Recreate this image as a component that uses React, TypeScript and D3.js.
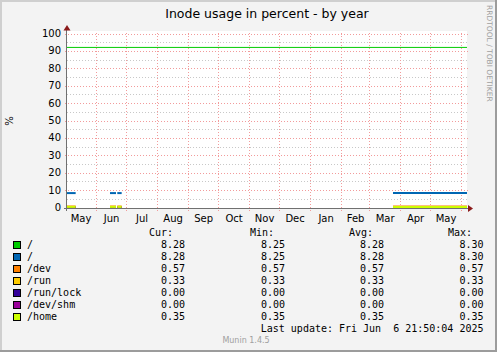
import React from 'react';
import * as d3 from 'd3';

// chart data
const endTime = new Date('2025-06-06T21:50:04Z');
const startTime = new Date(endTime.getTime() - 400 * 86400000);

// stretches of time where samples exist
const segmentStarts = ['2024-05-02T21:50:04Z', '2024-06-14T21:50:00Z', '2024-06-22T05:00:00Z', '2025-03-24T21:50:00Z'];
const segmentEnds = ['2024-05-11T14:00:00Z', '2024-06-20T21:50:00Z', '2024-06-26T14:00:00Z', '2025-06-06T21:50:04Z'];

const seriesNames = ['/', '/', '/dev', '/run', '/run/lock', '/dev/shm', '/home'];
const seriesColors = ['#00CC00', '#0066B3', '#FF8000', '#FFCC00', '#330099', '#990099', '#CCFF00'];
// value per segment for each series (the green "/" is drawn at its warning level)
const seriesValues = [
  [92, 92, 92, 92],
  [8.28, 8.28, 8.28, 8.28],
  [0.57, 0.57, 0.57, 0.57],
  [0.33, 0.33, 0.33, 0.33],
  [0, 0, 0, 0],
  [0, 0, 0, 0],
  [0.35, 0.35, 0.35, 0.35],
];
const curValues = ['8.28', '8.28', '0.57', '0.33', '0.00', '0.00', '0.35'];
const minValues = ['8.25', '8.25', '0.57', '0.33', '0.00', '0.00', '0.35'];
const avgValues = ['8.28', '8.28', '0.57', '0.33', '0.00', '0.00', '0.35'];
const maxValues = ['8.30', '8.30', '0.57', '0.33', '0.00', '0.00', '0.35'];

const yTicks = [0, 10, 20, 30, 40, 50, 60, 70, 80, 90, 100];
const yMinorTicks = [5, 15, 25, 35, 45, 55, 65, 75, 85, 95];

const W = 497;
const H = 352;
const sans = 'DejaVu Sans, sans-serif';
const mono = 'DejaVu Sans Mono, monospace';

export default function App() {
  const x = d3.scaleUtc().domain([startTime, endTime]).range([67, 467]);
  const y = d3.scaleLinear().domain([0, 100]).range([207.5, 33.5]);

  const left = 67;
  const right = 467;
  const top = 31;
  const bottom = 208;

  const months = d3.utcMonth.range(d3.utcMonth.floor(startTime), endTime);
  const gridMonths = months.filter(m => m > startTime);

  const line = d3.line<[Date, number]>()
    .x(d => x(d[0]))
    .y(d => y(d[1]));

  const legendRows = [248, 260, 272, 284, 296, 308, 320];

  return (
    <svg width={W} height={H} style={{ position: 'absolute', left: 0, top: 0 }}>
      <rect x={0} y={0} width={W} height={H} fill="#F3F3F3" />
      <rect x={0} y={0} width={W} height={2} fill="#CFCFCF" />
      <rect x={0} y={0} width={2} height={H} fill="#CFCFCF" />
      <rect x={0} y={H - 2} width={W} height={2} fill="#9C9C9C" />
      <rect x={W - 2} y={0} width={2} height={H} fill="#9C9C9C" />

      <text x={267} y={18} fontFamily={sans} fontSize={12.5} textAnchor="middle" fill="#000">
        Inode usage in percent - by year
      </text>

      <text
        transform="translate(487,5) rotate(90)"
        fontFamily={sans}
        fontSize={7.5}
        fill="#A0A0A0"
      >
        RRDTOOL / TOBI OETIKER
      </text>

      <text transform="translate(13,121) rotate(-90)" fontFamily={sans} fontSize={10} textAnchor="middle">
        %
      </text>

      {/* canvas */}
      <rect x={left} y={top} width={right - left} height={bottom - top} fill="#FFFFFF" />

      {/* minor horizontal grid */}
      {yMinorTicks.map(t => (
        <line key={'mn' + t} x1={left} x2={right} y1={Math.round(y(t)) + 0.5} y2={Math.round(y(t)) + 0.5}
          stroke="#C8C8C8" strokeDasharray="1,2" />
      ))}
      {/* major horizontal grid */}
      {yTicks.map(t => (
        <line key={'mj' + t} x1={left - 2} x2={right + 2} y1={Math.round(y(t)) + 0.5} y2={Math.round(y(t)) + 0.5}
          stroke="#F29B9B" strokeDasharray="1,2" />
      ))}
      {/* vertical month grid */}
      {gridMonths.map(m => (
        <line key={'v' + m.getTime()} x1={Math.round(x(m)) + 0.5} x2={Math.round(x(m)) + 0.5} y1={top + 2} y2={bottom + 3}
          stroke="#F29B9B" strokeDasharray="1,2" />
      ))}

      {/* series */}
      {seriesValues.map((vals, si) =>
        si === 0 ? (
          <path key={'s' + si}
            d={line([[startTime, vals[0]], [endTime, vals[vals.length - 1]]]) || ''}
            stroke={seriesColors[si]} strokeWidth={1} fill="none" />
        ) : (
          <g key={'s' + si}>
            {segmentStarts.map((s, i) => (
              <path key={i}
                d={line([[new Date(s), vals[i]], [new Date(segmentEnds[i]), vals[i]]]) || ''}
                stroke={seriesColors[si]} strokeWidth={2} fill="none" />
            ))}
          </g>
        )
      )}

      {/* axes */}
      <line x1={66.5} x2={66.5} y1={29} y2={bottom + 3} stroke="#707070" />
      <line x1={64} x2={right + 1} y1={bottom + 0.5} y2={bottom + 0.5} stroke="#707070" />
      <path d={`M63.5,30.5 L70.5,30.5 L67,25 Z`} fill="#8B1A1A" />
      <path d={`M468,205 L468,212 L473,208.5 Z`} fill="#8B1A1A" />

      {yTicks.map(t => (
        <text key={'yl' + t} x={61} y={y(t) + 3.5} fontFamily={sans} fontSize={10} textAnchor="end">
          {t}
        </text>
      ))}
      {months.map(m => {
        const next = d3.utcMonth.offset(m, 1);
        const cx = (x(m) + x(next)) / 2 + 0.5;
        if (cx < left || cx > right) return null;
        return (
          <text key={'xl' + m.getTime()} x={cx} y={222} fontFamily={sans} fontSize={10} textAnchor="middle">
            {d3.utcFormat('%b')(m)}
          </text>
        );
      })}

      {/* legend */}
      <g fontFamily={mono} fontSize={10} fill="#000">
        <text x={149} y={236}>Cur:</text>
        <text x={250} y={236}>Min:</text>
        <text x={349} y={236}>Avg:</text>
        <text x={448} y={236}>Max:</text>
        {seriesNames.map((n, i) => (
          <g key={'lg' + i}>
            <rect x={13.5} y={legendRows[i] - 6.5} width={7} height={7} fill={seriesColors[i]} stroke="#000" />
            <text x={27} y={legendRows[i]}>{n}</text>
            <text x={185} y={legendRows[i]} textAnchor="end">{curValues[i]}</text>
            <text x={285} y={legendRows[i]} textAnchor="end">{minValues[i]}</text>
            <text x={384} y={legendRows[i]} textAnchor="end">{avgValues[i]}</text>
            <text x={483.5} y={legendRows[i]} textAnchor="end">{maxValues[i]}</text>
          </g>
        ))}
        <text x={483.5} y={332} textAnchor="end" xmlSpace="preserve">Last update: Fri Jun  6 21:50:04 2025</text>
      </g>

      <text x={246} y={343} fontFamily={sans} fontSize={8} textAnchor="middle" fill="#A0A0A0">
        Munin 1.4.5
      </text>
    </svg>
  );
}
